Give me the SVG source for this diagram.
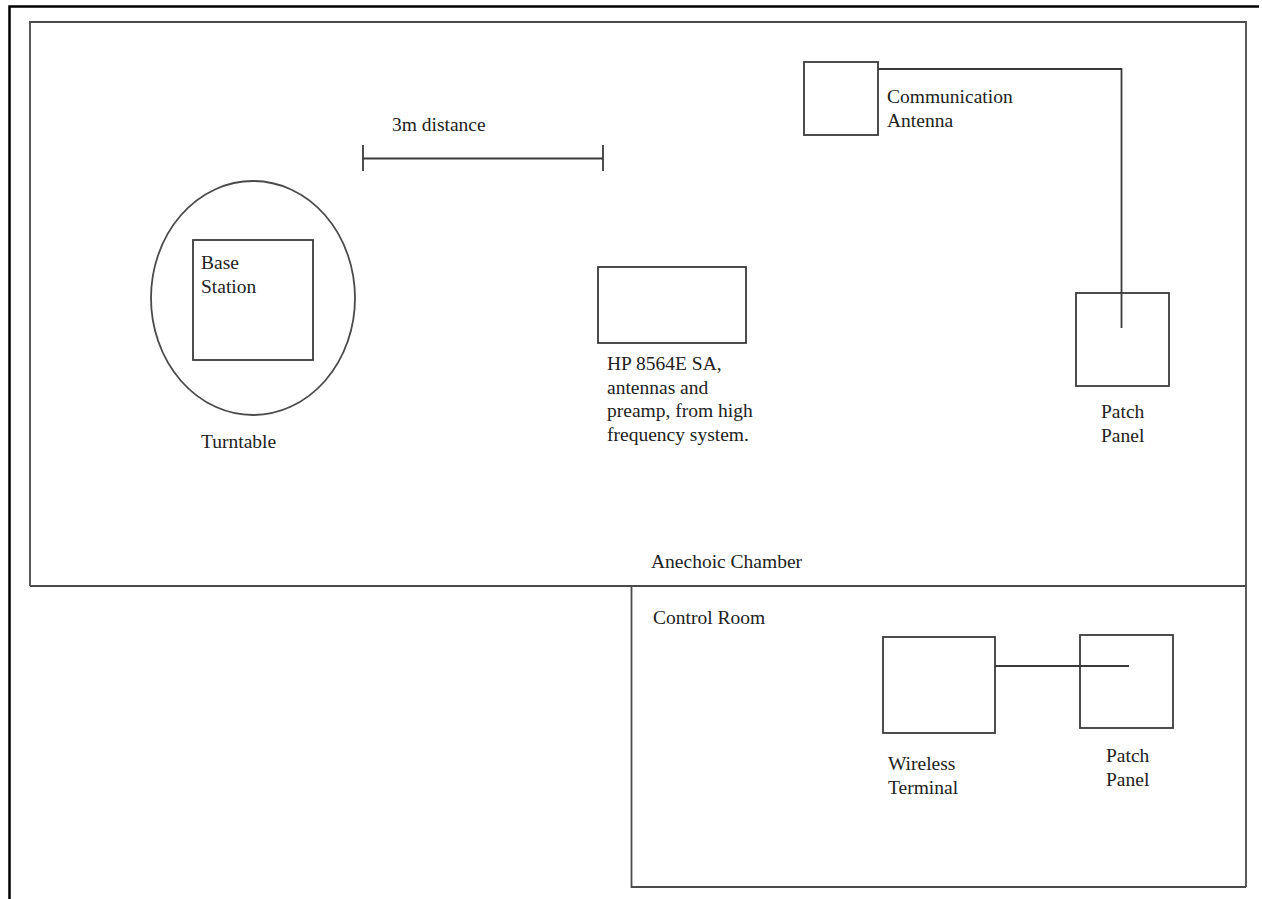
<svg xmlns="http://www.w3.org/2000/svg" width="1262" height="899" viewBox="0 0 1262 899">
<style>
.frame{fill:none;stroke:#000;stroke-width:2.5}
.wall{fill:none;stroke:#4a4a4a;stroke-width:1.8}
.box{fill:#fff;stroke:#3a3a3a;stroke-width:1.8}
.wire{fill:none;stroke:#3a3a3a;stroke-width:1.8}
text{font-family:"Liberation Serif","Times New Roman",serif;font-size:19.5px;fill:#222}
</style>
<rect width="1262" height="899" fill="#fff"/>
<g id="page-frame">
<polyline class="frame" points="9.5,899 9.5,6.5 1259,6.5"/>
</g>
<g id="anechoic-chamber">
<polyline class="wall" points="30,586 30,22 1246,22 1246,887"/>
<line class="wall" x1="30" y1="586" x2="1246" y2="586"/>
<text x="651" y="568">Anechoic Chamber</text>
</g>
<g id="control-room">
<polyline class="wall" points="631.5,586 631.5,887 1246,887"/>
<text x="653" y="624">Control Room</text>
</g>
<g id="turntable">
<ellipse class="wall" cx="253" cy="298" rx="102" ry="117"/>
<text x="201" y="448">Turntable</text>
</g>
<g id="base-station">
<rect class="box" x="193" y="240" width="120" height="120"/>
<text x="201" y="269">Base</text>
<text x="201" y="293">Station</text>
</g>
<g id="distance-3m">
<line class="wire" x1="363" y1="158.5" x2="603" y2="158.5"/>
<line class="wire" x1="363" y1="145" x2="363" y2="171"/>
<line class="wire" x1="603" y1="145" x2="603" y2="171"/>
<text x="392" y="131">3m distance</text>
</g>
<g id="hp-sa">
<rect class="box" x="598" y="267" width="148" height="76"/>
<text x="607" y="370">HP 8564E SA,</text>
<text x="607" y="393.5">antennas and</text>
<text x="607" y="417">preamp, from high</text>
<text x="607" y="440.5">frequency system.</text>
</g>
<g id="communication-antenna">
<rect class="box" x="804" y="62" width="74" height="73"/>
<text x="887" y="103">Communication</text>
<text x="887" y="127">Antenna</text>
</g>
<g id="patch-panel-chamber">
<rect class="box" x="1076" y="293" width="93" height="93"/>
<text x="1101" y="418">Patch</text>
<text x="1101" y="442">Panel</text>
</g>
<g id="wireless-terminal">
<rect class="box" x="883" y="637" width="112" height="96"/>
<text x="888" y="770">Wireless</text>
<text x="888" y="794">Terminal</text>
</g>
<g id="patch-panel-control">
<rect class="box" x="1080" y="635" width="93" height="93"/>
<text x="1106" y="762">Patch</text>
<text x="1106" y="786">Panel</text>
</g>
<g id="connectors">
<polyline class="wire" points="878,69 1121.5,69 1121.5,328"/>
<line class="wire" x1="995" y1="666" x2="1129" y2="666"/>
</g>
</svg>
